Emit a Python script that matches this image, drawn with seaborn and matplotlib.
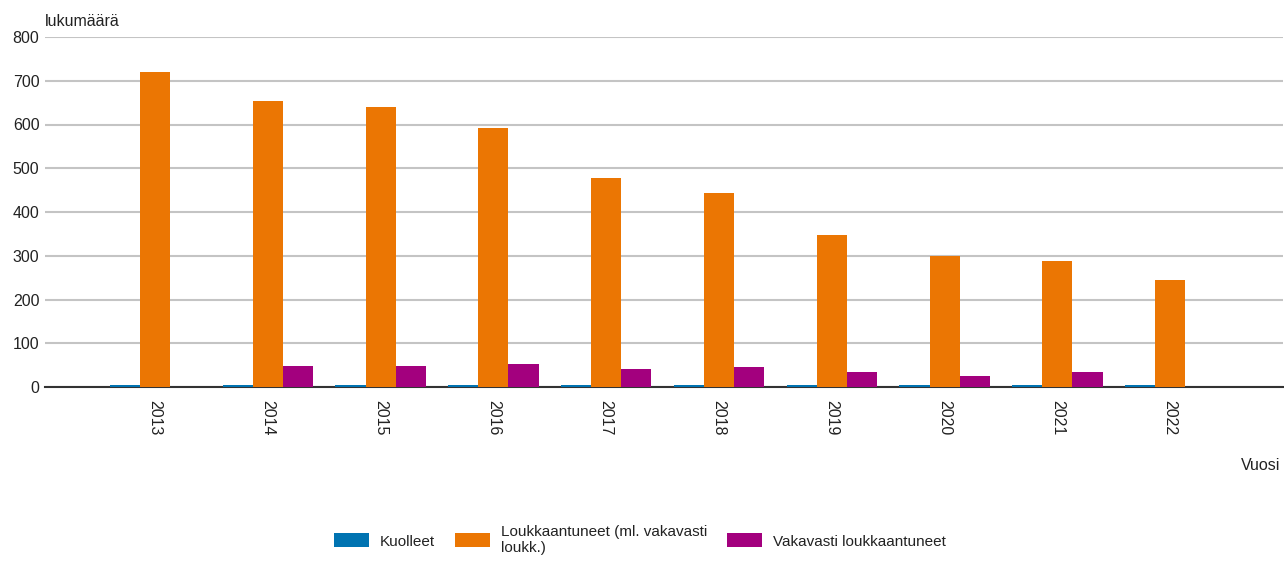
import numpy as np
import pandas as pd
import matplotlib
matplotlib.use("Agg")
import matplotlib.pyplot as plt
import seaborn as sns

years = ["2013", "2014", "2015", "2016", "2017", "2018", "2019", "2020", "2021", "2022"]
kuolleet = [5, 5, 5, 5, 5, 5, 5, 5, 5, 5]
loukkaantuneet = [721, 654, 640, 591, 478, 444, 348, 300, 288, 244]
vakavasti = [np.nan, 48, 48, 52, 42, 45, 35, 25, 35, np.nan]

series_names = ["Kuolleet", "Loukkaantuneet (ml. vakavasti\nloukk.)", "Vakavasti loukkaantuneet"]
colors = ["#0073B1", "#EB7603", "#A3007E"]

rows = []
for name, vals in zip(series_names, [kuolleet, loukkaantuneet, vakavasti]):
    for y, v in zip(years, vals):
        if not np.isnan(v):
            rows.append({"Vuosi": y, "Sarja": name, "Arvo": v})
df = pd.DataFrame(rows)

sns.set_style("white")
plt.rcParams["font.family"] = ["Liberation Sans", "DejaVu Sans"]

fig = plt.figure(figsize=(12.84, 5.62), dpi=100)
ax = fig.add_axes([45 / 1284, 1 - 387 / 562, (1283 - 45) / 1284, (387 - 37) / 562])

sns.barplot(data=df, x="Vuosi", y="Arvo", hue="Sarja", order=years,
            hue_order=series_names, palette=colors, width=0.8,
            saturation=1, errorbar=None, ax=ax, zorder=3, linewidth=0)

ax.set_xlim(-0.975, 10.0)
ax.set_ylim(0, 800)
ax.set_yticks(range(0, 801, 100))
ax.yaxis.grid(True, color="#c4c4c4", linewidth=1.5, zorder=0)
ax.set_axisbelow(True)
for s in ["left", "right", "top"]:
    ax.spines[s].set_visible(False)
ax.spines["bottom"].set_color("#333333")
ax.spines["bottom"].set_linewidth(1.5)
ax.spines["bottom"].set_zorder(2)

ax.tick_params(axis="y", length=0, labelsize=11.5, labelcolor="#222222", pad=4)
ax.tick_params(axis="x", length=0, labelsize=11.5, labelcolor="#222222", pad=9)
plt.setp(ax.get_xticklabels(), rotation=-90)
ax.set_xlabel("")
ax.set_ylabel("")

fig.text(45 / 1284, 1 - 22 / 562, "lukumäärä", fontsize=11.5, color="#222222",
         ha="left", va="center")
fig.text(1280 / 1284, 1 - 466 / 562, "Vuosi", fontsize=11.5, color="#222222",
         ha="right", va="center")

handles, labels = ax.get_legend_handles_labels()
ax.get_legend().remove()
fig.legend(handles, labels, loc="center", bbox_to_anchor=(640 / 1284, 1 - 540 / 562),
           ncol=3, frameon=False, fontsize=11, handlelength=2.3, handleheight=1.0,
           columnspacing=1.3, handletextpad=0.7, labelcolor="#222222")

fig.savefig("out.png", dpi=100)
